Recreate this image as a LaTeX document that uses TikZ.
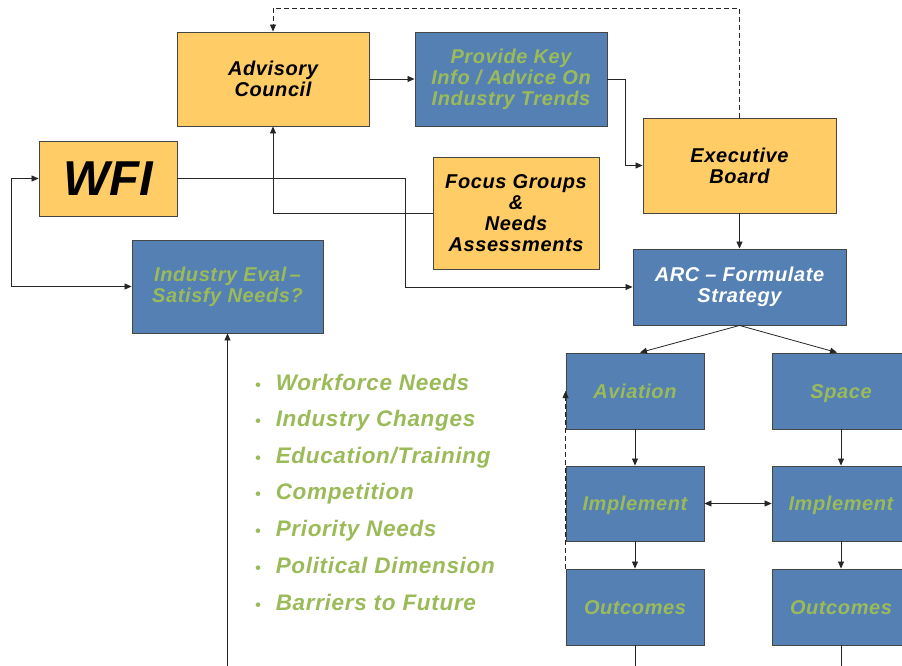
\documentclass[tikz,border=0pt]{standalone}
\usepackage{fontspec}
\setmainfont{Liberation Sans}
\newfontfamily\wideface[LetterSpace=3]{Liberation Sans}
\usetikzlibrary{arrows.meta}
\definecolor{boxblue}{HTML}{5580B3}
\definecolor{boxyel}{HTML}{FFCC66}
\definecolor{txtgreen}{HTML}{9BBB59}
\definecolor{edgecol}{HTML}{454545}
\begin{document}
\begin{tikzpicture}[x=1pt,y=-1pt,
  box/.style={draw=edgecol, line width=0.9pt, inner sep=0pt, align=center,
    font=\wideface\fontsize{20}{21}\selectfont\bfseries\itshape},
  ybox/.style={box, fill=boxyel, text=black},
  bbox/.style={box, fill=boxblue, text=txtgreen},
  single/.style={text height=14.4pt, text depth=0pt},
  tip/.tip={Triangle[length=7pt,width=6pt]},
  conn/.style={draw=black!85, line width=0.8pt, -tip},
  plain/.style={draw=black!85, line width=0.8pt},
  bul/.style={anchor=base west, inner sep=0pt, text=txtgreen,
    font=\wideface\fontsize{22.5}{23}\selectfont\bfseries\itshape}
]
\useasboundingbox (0,0) rectangle (902,666);
\clip (0,0) rectangle (902,666);
\fill[white] (0,0) rectangle (902,666);

% nodes
\node[ybox, minimum width=192pt, minimum height=94pt] (adv) at (273,79) {Advisory\\Council};
\node[bbox, minimum width=192pt, minimum height=94pt] (prov) at (511,79) {Provide Key\\Info / Advice On\\Industry Trends};
\node[ybox, minimum width=193pt, minimum height=95pt] (exec) at (739.5,165.5) {Executive\\Board};
\node[ybox, minimum width=138pt, minimum height=75pt, font=\fontsize{49}{49}\selectfont\bfseries\itshape] (wfi) at (108,178.5) {WFI};
\node[ybox, minimum width=166pt, minimum height=112pt] (focus) at (516,213) {Focus Groups\\\&\\Needs\\Assessments};
\node[bbox, minimum width=191pt, minimum height=93pt] (eval) at (227.5,286.5) {Industry Eval\,\textendash\\Satisfy Needs?};
\node[bbox, minimum width=213pt, minimum height=76pt, text=white] (arc) at (739.5,287) {ARC \textendash{} Formulate\\Strategy};
\node[bbox, single, minimum width=138pt, minimum height=76pt] (av) at (635,391) {Aviation};
\node[bbox, single, minimum width=138pt, minimum height=75pt] (imp1) at (635,503.5) {Implement};
\node[bbox, single, minimum width=138pt, minimum height=76pt] (out1) at (635,607) {Outcomes};
\node[bbox, single, minimum width=138pt, minimum height=76pt] (sp) at (841,391) {Space};
\node[bbox, single, minimum width=138pt, minimum height=75pt] (imp2) at (841,503.5) {Implement};
\node[bbox, single, minimum width=138pt, minimum height=76pt] (out2) at (841,607) {Outcomes};

% bullet list
\foreach \t/\yy [count=\i] in {Workforce Needs/382, Industry Changes/418.5, {Education/Training}/455, Competition/491.5, Priority Needs/528, Political Dimension/565, Barriers to Future/602}{
  \node[bul] (b\i) at (255,\yy+8) {{\fontsize{16}{16}\selectfont\textbullet}\hspace{15pt}\t};
}

% coordinates
\coordinate (topy) at (0,8);
\coordinate (boty) at (0,666);

% connectors
\draw[conn, dashed, dash pattern=on 5pt off 3pt] (exec.north) -- (exec.north |- topy) -| (adv.north);
\draw[conn] (adv.east) -- (prov.west);
\draw[conn] (prov.east) -- ++(18,0) |- (exec.west);
\draw[conn] (focus.west) -| (adv.south);
\draw[conn] (wfi.east) -- ++(228,0) |- (arc.west);
\draw[conn, tip-tip] (wfi.west) -- ++(-27,0) |- (eval.west);
\draw[conn] (eval.south |- boty) -- (eval.south);
\draw[conn] (exec.south) -- (arc.south |- arc.north);
\draw[conn] (arc.south) -- ([xshift=5pt]av.north);
\draw[conn] (arc.south) -- ([xshift=-4pt]sp.north);
\draw[conn] (av.south) -- (imp1.north);
\draw[conn] (imp1.south) -- (out1.north);
\draw[conn] (sp.south) -- (imp2.north);
\draw[conn] (imp2.south) -- (out2.north);
\draw[conn, tip-tip] (imp1.east) -- (imp2.west);
\draw[conn, dashed, dash pattern=on 5pt off 3pt] (out1.north west) -- (av.west);
\draw[plain] (out1.south) -- (out1.south |- boty);
\draw[plain] (out2.south) -- (out2.south |- boty);
\end{tikzpicture}
\end{document}
